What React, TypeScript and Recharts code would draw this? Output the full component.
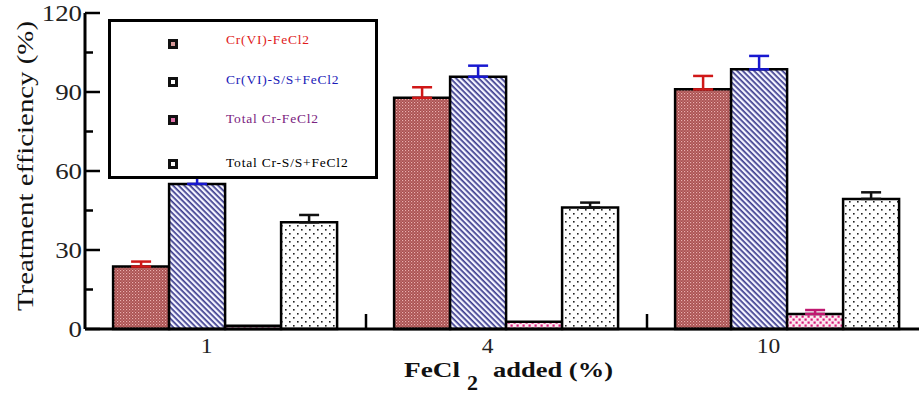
import React from "react";
import { BarChart, Bar, XAxis, YAxis, ErrorBar, Legend } from "recharts";

const categories = ["1", "4", "10"];
const crFeCl2 = [23.7, 87.8, 91.0];
const crFeCl2Err = [1.9, 4.0, 5.1];
const crSS = [55.1, 95.8, 98.6];
const crSSErr = [3.0, 4.2, 5.1];
const totFeCl2 = [1.2, 2.8, 5.7];
const totFeCl2Err: (number | null)[] = [null, null, 1.5];
const totSS = [40.5, 46.1, 49.4];
const totSSErr = [2.8, 1.9, 2.5];
const yTicks = [0, 15, 30, 45, 60, 75, 90, 105, 120];

const seriesNames = ["Cr(VI)-FeCl2", "Cr(VI)-S/S+FeCl2", "Total Cr-FeCl2", "Total Cr-S/S+FeCl2"];
const legendColors = ["#e01b1b", "#1a1ab8", "#7b2380", "#000000"];
const iconInner = ["#d89a9a", "#ffffff", "#e070a8", "#ffffff"];

const data = categories.map((c, i) => ({
  cat: c,
  a: crFeCl2[i],
  aErr: [0, crFeCl2Err[i]],
  b: crSS[i],
  bErr: [0, crSSErr[i]],
  c: totFeCl2[i],
  cErr: totFeCl2Err[i] == null ? null : [0, totFeCl2Err[i] as number],
  d: totSS[i],
  dErr: [0, totSSErr[i]],
}));

const CHART_W = 928;
const CHART_H = 395;
const Y_W = 85;
const PLOT_W = CHART_W - Y_W;
const HALF_BAND = PLOT_W / categories.length / 2;

const serif = "Liberation Serif, Times New Roman, Times, serif";
const serifStyle = { fontFamily: serif } as React.CSSProperties;

const YTick = (props: any) => {
  const { x, y, payload } = props;
  const v = payload.value;
  const major = v % 30 === 0;
  return (
    <g>
      <line x1={x} x2={x + (major ? 15 : 8)} y1={y} y2={y} stroke="#000" strokeWidth={2.5} />
      {major && (
        <text
          transform={`translate(${x - 3},${y}) scale(1.12,1)`}
          x={0}
          y={0}
          textAnchor="end"
          dominantBaseline="central"
          style={{ ...serifStyle, fontSize: 24 }}
          fill="#222"
        >
          {v}
        </text>
      )}
    </g>
  );
};

const XTick = (props: any) => {
  const { x, y, payload, index } = props;
  return (
    <g>
      {index < categories.length - 1 && (
        <line x1={x + HALF_BAND} x2={x + HALF_BAND} y1={y} y2={y - 15} stroke="#000" strokeWidth={2.5} />
      )}
      <text
        transform={`translate(${x - 19},${y + 24}) scale(1.12,1)`}
        x={0}
        y={0}
        textAnchor="middle"
        style={{ ...serifStyle, fontSize: 21 }}
        fill="#222"
      >
        {payload.value}
      </text>
    </g>
  );
};

const XTitle = () => (
  <g fill="#111">
    <text x={404} y={377} style={{ ...serifStyle, fontSize: 22, fontWeight: "bold" }} textLength={56} lengthAdjust="spacingAndGlyphs">
      FeCl
    </text>
    <text x={467} y={390} style={{ ...serifStyle, fontSize: 20, fontWeight: "bold" }} textLength={11} lengthAdjust="spacingAndGlyphs">
      2
    </text>
    <text x={493} y={377} style={{ ...serifStyle, fontSize: 22, fontWeight: "bold" }} textLength={120} lengthAdjust="spacingAndGlyphs">
      added (%)
    </text>
  </g>
);

const LegendBox = () => {
  const iconTops = [25, 63, 101, 145];
  const textTops = [21, 61, 100, 144];
  return (
    <div
      style={{
        position: "relative",
        width: 270,
        height: 160,
        boxSizing: "border-box",
        border: "3px solid #000",
        background: "#fff",
        fontFamily: serif,
      }}
    >
      {seriesNames.map((n, i) => (
        <React.Fragment key={n}>
          <div
            style={{
              position: "absolute",
              left: 57,
              top: iconTops[i] - 5 - 3,
              width: 10,
              height: 10,
              background: "#111",
            }}
          >
            <div
              style={{
                position: "absolute",
                left: 3,
                top: 3,
                width: 4,
                height: 4,
                background: iconInner[i],
              }}
            />
          </div>
          <div
            style={{
              position: "absolute",
              left: 115,
              top: textTops[i] - 8 - 3,
              fontSize: 13.5,
              lineHeight: "16px",
              letterSpacing: 0.8,
              color: legendColors[i],
              whiteSpace: "nowrap",
            }}
          >
            {n}
          </div>
        </React.Fragment>
      ))}
    </div>
  );
};

export default function App() {
  return (
    <div
      style={{
        position: "absolute",
        left: 0,
        top: 0,
        width: 919,
        height: 395,
        overflow: "hidden",
        background: "#fff",
      }}
    >
      <BarChart
        width={CHART_W}
        height={CHART_H}
        data={data}
        margin={{ top: 13, right: 0, bottom: 0, left: 0 }}
        barCategoryGap="10%"
        barGap={0}
      >
        <defs>
          <pattern id="pRed" width="3" height="3" patternUnits="userSpaceOnUse">
            <rect width="3" height="3" fill="#a84e4e" />
            <rect x="0" y="0" width="1.2" height="1.2" fill="#eab0b0" />
            <rect x="1.5" y="1.5" width="1.2" height="1.2" fill="#d08888" />
          </pattern>
          <pattern id="pBlue" width="4" height="4" patternUnits="userSpaceOnUse" patternTransform="rotate(45)">
            <rect width="4" height="4" fill="#f4f4ff" />
            <rect width="4" height="1.7" fill="#3c3c8e" />
          </pattern>
          <pattern id="pPink" width="6" height="6" patternUnits="userSpaceOnUse">
            <rect width="6" height="6" fill="#fce8f0" />
            <rect x="0.5" y="0.5" width="2.2" height="2.2" fill="#d81a78" />
            <rect x="3.5" y="3.5" width="2.2" height="2.2" fill="#d81a78" />
          </pattern>
          <pattern id="pDot" width="8" height="8" patternUnits="userSpaceOnUse">
            <rect width="8" height="8" fill="#ffffff" />
            <rect x="1" y="1" width="1.6" height="1.6" fill="#222" />
            <rect x="5" y="5" width="1.6" height="1.6" fill="#222" />
          </pattern>
        </defs>
        <XAxis
          dataKey="cat"
          height={395 - 329}
          axisLine={{ stroke: "#000", strokeWidth: 3 }}
          tickLine={false}
          tickSize={0}
          tickMargin={0}
          interval={0}
          tick={<XTick />}
          label={{ content: <XTitle /> }}
        />
        <XAxis
          xAxisId="top"
          dataKey="cat"
          orientation="top"
          height={0}
          tick={false}
          tickLine={false}
          axisLine={{ stroke: "#000", strokeWidth: 3 }}
        />
        <YAxis
          width={Y_W}
          domain={[0, 120]}
          ticks={yTicks}
          interval={0}
          axisLine={{ stroke: "#000", strokeWidth: 3 }}
          tickLine={false}
          tickSize={0}
          tickMargin={0}
          tick={<YTick />}
          label={{
            content: () => (
              <text
                transform="translate(33,166) rotate(-90)"
                x={0}
                y={0}
                textAnchor="middle"
                style={{ ...serifStyle, fontSize: 24 }}
                fill="#111"
                textLength={290}
                lengthAdjust="spacingAndGlyphs"
              >
                Treatment efficiency (%)
              </text>
            ),
          }}
        />
        <Legend
          layout="horizontal"
          verticalAlign="middle"
          align="center"
          content={() => <LegendBox />}
          wrapperStyle={{ left: 108, top: 19, width: 270, height: 160, right: "auto", bottom: "auto" }}
        />
        <Bar dataKey="a" name={seriesNames[0]} fill="url(#pRed)" stroke="#000" strokeWidth={2.5} isAnimationActive={false}>
          <ErrorBar dataKey="aErr" width={10} stroke="#d01818" strokeWidth={2.5} />
        </Bar>
        <Bar dataKey="b" name={seriesNames[1]} fill="url(#pBlue)" stroke="#000" strokeWidth={2.5} isAnimationActive={false}>
          <ErrorBar dataKey="bErr" width={10} stroke="#1818d0" strokeWidth={2.5} />
        </Bar>
        <Bar dataKey="c" name={seriesNames[2]} fill="url(#pPink)" stroke="#000" strokeWidth={2.5} isAnimationActive={false}>
          <ErrorBar dataKey="cErr" width={10} stroke="#c01870" strokeWidth={2.5} />
        </Bar>
        <Bar dataKey="d" name={seriesNames[3]} fill="url(#pDot)" stroke="#000" strokeWidth={2.5} isAnimationActive={false}>
          <ErrorBar dataKey="dErr" width={10} stroke="#111" strokeWidth={2.5} />
        </Bar>
      </BarChart>
    </div>
  );
}
